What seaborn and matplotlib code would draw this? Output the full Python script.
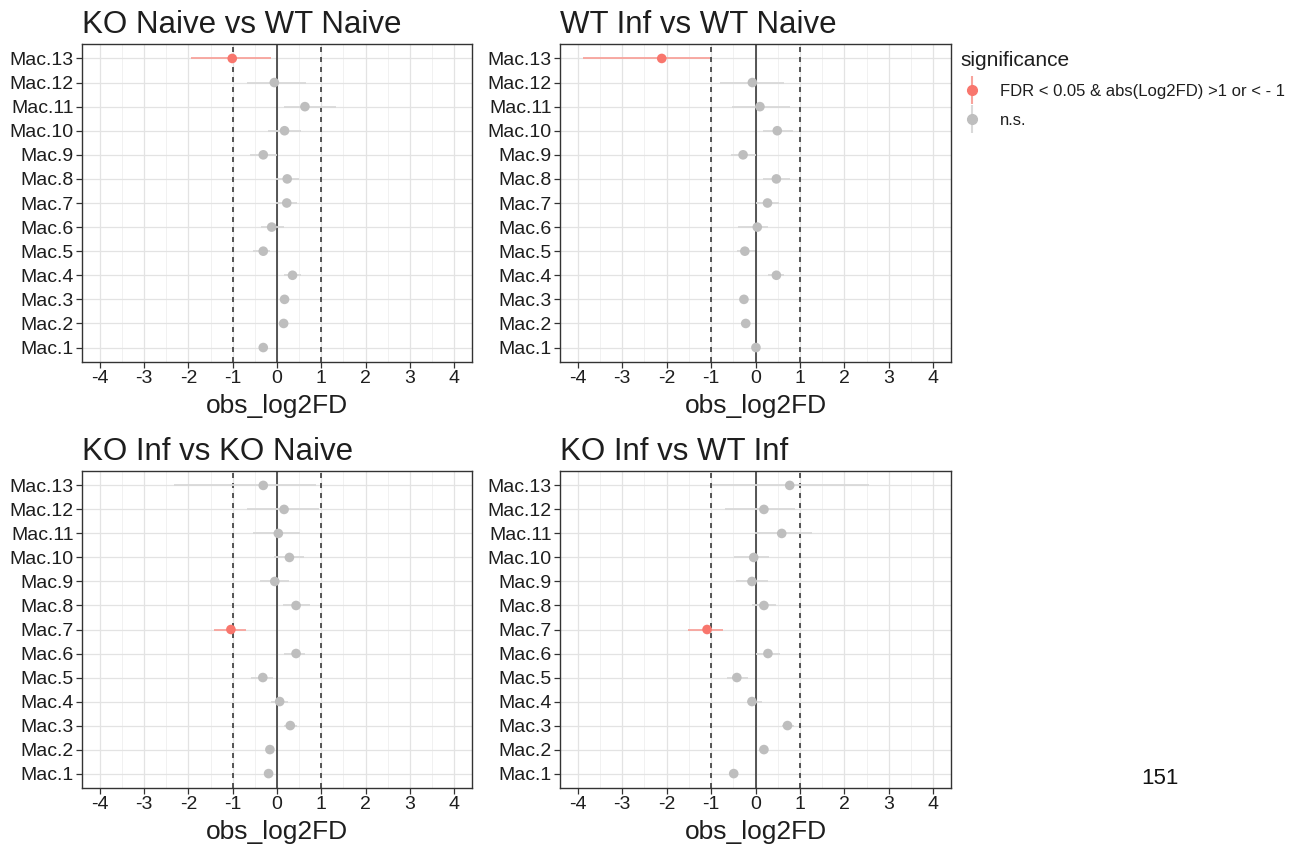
import numpy as np
import pandas as pd
import matplotlib
matplotlib.use("Agg")
import matplotlib.pyplot as plt
from matplotlib.lines import Line2D
from matplotlib.ticker import MultipleLocator
import seaborn as sns

# Cell clusters (bottom to top)
clusters = ["Mac.1", "Mac.2", "Mac.3", "Mac.4", "Mac.5", "Mac.6", "Mac.7",
            "Mac.8", "Mac.9", "Mac.10", "Mac.11", "Mac.12", "Mac.13"]

# Observed log2 fold differences with interval bounds, per comparison
ko_naive_wt_naive = [-0.31, 0.15, 0.17, 0.35, -0.31, -0.12, 0.22, 0.23, -0.31, 0.17, 0.63, -0.06, -1.01]
ko_naive_wt_naive_lo = [-0.40, 0.07, 0.07, 0.16, -0.54, -0.36, -0.02, -0.02, -0.62, -0.21, 0.15, -0.68, -1.93]
ko_naive_wt_naive_hi = [-0.22, 0.24, 0.28, 0.54, -0.15, 0.16, 0.46, 0.50, 0.01, 0.54, 1.32, 0.65, -0.13]
ko_naive_wt_naive_sig = [0, 0, 0, 0, 0, 0, 0, 0, 0, 0, 0, 0, 1]

wt_inf_wt_naive = [0.01, -0.22, -0.26, 0.47, -0.24, 0.04, 0.27, 0.47, -0.28, 0.49, 0.10, -0.07, -2.11]
wt_inf_wt_naive_lo = [-0.07, -0.33, -0.36, 0.28, -0.42, -0.39, 0.01, 0.17, -0.56, 0.17, -0.54, -0.80, -3.88]
wt_inf_wt_naive_hi = [0.08, -0.13, -0.16, 0.65, -0.01, 0.28, 0.54, 0.77, 0.01, 0.84, 0.78, 0.65, -1.02]
wt_inf_wt_naive_sig = [0, 0, 0, 0, 0, 0, 0, 0, 0, 0, 0, 0, 1]

ko_inf_ko_naive = [-0.19, -0.16, 0.30, 0.06, -0.32, 0.43, -1.04, 0.43, -0.05, 0.28, 0.03, 0.16, -0.31]
ko_inf_ko_naive_lo = [-0.29, -0.25, 0.16, -0.13, -0.58, 0.16, -1.43, 0.14, -0.38, -0.07, -0.54, -0.67, -2.33]
ko_inf_ko_naive_hi = [-0.10, -0.07, 0.44, 0.25, -0.08, 0.64, -0.69, 0.74, 0.28, 0.62, 0.53, 0.94, 0.87]
ko_inf_ko_naive_sig = [0, 0, 0, 0, 0, 0, 1, 0, 0, 0, 0, 0, 0]

ko_inf_wt_inf = [-0.49, 0.19, 0.72, -0.08, -0.42, 0.28, -1.09, 0.19, -0.08, -0.04, 0.59, 0.19, 0.77]
ko_inf_wt_inf_lo = [-0.58, 0.09, 0.59, -0.19, -0.64, 0.01, -1.52, -0.08, -0.43, -0.49, -0.01, -0.68, -0.98]
ko_inf_wt_inf_hi = [-0.40, 0.27, 0.87, 0.14, -0.17, 0.55, -0.73, 0.46, 0.29, 0.31, 1.28, 0.89, 2.55]
ko_inf_wt_inf_sig = [0, 0, 0, 0, 0, 0, 1, 0, 0, 0, 0, 0, 0]

titles = ["KO Naive vs WT Naive", "WT Inf vs WT Naive", "KO Inf vs KO Naive", "KO Inf vs WT Inf"]
sig_labels = ["FDR < 0.05 & abs(Log2FD) >1 or < - 1", "n.s."]
x_ticks = [-4, -3, -2, -1, 0, 1, 2, 3, 4]

comparisons = [
    (ko_naive_wt_naive, ko_naive_wt_naive_lo, ko_naive_wt_naive_hi, ko_naive_wt_naive_sig),
    (wt_inf_wt_naive, wt_inf_wt_naive_lo, wt_inf_wt_naive_hi, wt_inf_wt_naive_sig),
    (ko_inf_ko_naive, ko_inf_ko_naive_lo, ko_inf_ko_naive_hi, ko_inf_ko_naive_sig),
    (ko_inf_wt_inf, ko_inf_wt_inf_lo, ko_inf_wt_inf_hi, ko_inf_wt_inf_sig),
]

sns.set_theme(style="white")
plt.rcParams["font.family"] = ["Liberation Sans", "DejaVu Sans"]

RED = "#F8766D"
GREY = "#BEBEBE"
palette = {sig_labels[0]: RED, sig_labels[1]: GREY}
line_palette = {sig_labels[0]: "#F8A39C", sig_labels[1]: "#D9D9D9"}
DARK = "#333333"
TXT = "#1E1E1E"

W, H = 1315, 846
fig = plt.figure(figsize=(W / 100, H / 100), dpi=100)

# panel boxes in pixels: (left, top, right, bottom)
boxes = [(82, 44, 472, 362), (560, 44, 951, 362),
         (82, 471, 472, 788), (560, 471, 951, 788)]

for (x0, y0, x1, y1), title, (fd, lo, hi, sig) in zip(boxes, titles, comparisons):
    ax = fig.add_axes([x0 / W, 1 - y1 / H, (x1 - x0) / W, (y1 - y0) / H])
    df = pd.DataFrame({
        "cluster": clusters,
        "pos": np.arange(len(clusters)),
        "obs_log2FD": fd,
        "lo": lo,
        "hi": hi,
        "significance": [sig_labels[0] if s else sig_labels[1] for s in sig],
    })

    # grid
    ax.set_xlim(-4.4, 4.4)
    ax.set_ylim(-0.6, len(clusters) - 0.4)
    ax.xaxis.set_major_locator(MultipleLocator(1))
    ax.xaxis.set_minor_locator(MultipleLocator(0.5))
    ax.grid(True, which="major", color="#E3E3E3", lw=0.9, zorder=0)
    ax.grid(True, which="minor", axis="x", color="#EFEFEF", lw=0.6, zorder=0)

    # reference lines
    ax.axvline(0, color="#3A3A3A", lw=1.2, zorder=1)
    for v in (-1, 1):
        ax.axvline(v, color="#3A3A3A", lw=1.2, ls=(0, (3, 3)), zorder=1)

    # interval ranges
    for sname, grp in df.groupby("significance"):
        ax.hlines(grp["pos"], grp["lo"], grp["hi"], color=line_palette[sname],
                  lw=1.3, zorder=2)

    sns.scatterplot(data=df, x="obs_log2FD", y="pos", hue="significance",
                    palette=palette, s=48, edgecolor="none", legend=False,
                    ax=ax, zorder=3)

    ax.set_yticks(df["pos"])
    ax.set_yticklabels(clusters)
    ax.set_xticks(x_ticks)
    ax.set_xticklabels([str(t) for t in x_ticks])
    ax.tick_params(axis="both", which="major", length=4, width=0.9, color=DARK,
                   labelsize=14, labelcolor=TXT, pad=2, direction="out",
                   bottom=True, left=True)
    ax.tick_params(axis="both", which="minor", length=0)
    ax.set_ylabel("")
    ax.set_xlabel("obs_log2FD", fontsize=19, color=TXT, labelpad=5)
    ax.set_title(title, loc="left", fontsize=22.5, color=TXT, pad=8)
    for sp in ax.spines.values():
        sp.set_color(DARK)
        sp.set_linewidth(1.0)

# legend
handles = [
    (Line2D([], [], color=line_palette[sig_labels[0]], marker="|", markersize=20,
            markeredgewidth=1.5, linestyle="none"),
     Line2D([], [], color=RED, marker="o", markersize=7, linestyle="none")),
    (Line2D([], [], color=line_palette[sig_labels[1]], marker="|", markersize=20,
            markeredgewidth=1.5, linestyle="none"),
     Line2D([], [], color=GREY, marker="o", markersize=7, linestyle="none")),
]
leg = fig.legend(handles, sig_labels, loc="upper left",
                 bbox_to_anchor=(955 / W, 1 - 46 / H), frameon=False,
                 title="significance", title_fontsize=15, fontsize=12,
                 alignment="left", labelspacing=0.85, handlelength=1.4,
                 handletextpad=1.0, borderaxespad=0, borderpad=0.3)
for t in leg.get_texts():
    t.set_color(TXT)
leg.get_title().set_color(TXT)

fig.text(1160 / W, 1 - 778 / H, "151", ha="center", va="center", fontsize=16, color="#111111")

fig.savefig("out.png", dpi=100)
